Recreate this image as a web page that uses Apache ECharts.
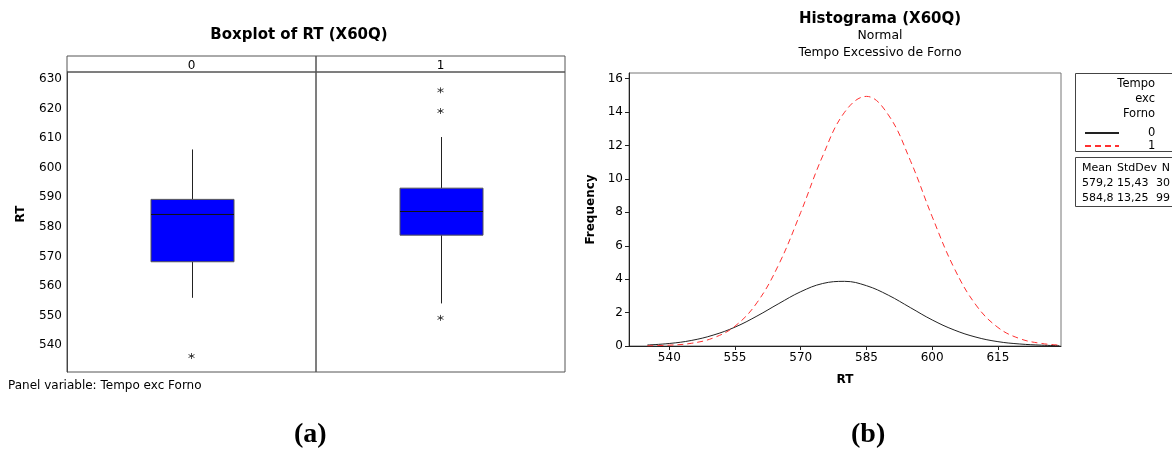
<!DOCTYPE html>
<html>
<head>
<meta charset="utf-8">
<script src="https://cdn.jsdelivr.net/npm/echarts@6/dist/echarts.min.js"></script>
<style>
    html, body { margin: 0; padding: 0; background: #fff; }
    #chart { width: 1172px; height: 454px; }
</style>
</head>
<body>
<div id="chart"></div>
<script>
// boxplot (a): [lower whisker, Q1, median, Q3, upper whisker]
const boxGroups = ['0', '1'];
const boxStats0 = [556.0, 568.2, 584.2, 589.3, 606.2];
const boxStats1 = [554.1, 577.2, 585.2, 593.1, 610.4];
const outliers0 = [536.3];
const outliers1 = [626.2, 619.2, 549.2];
const rtTicks = [540, 550, 560, 570, 580, 590, 600, 610, 620, 630];

// fitted normal curves (b)
const rtValues = [535, 540, 545, 550, 555, 560, 565, 570, 575, 580, 585, 590, 595, 600, 605, 610, 615, 620, 625, 629];
const freq0 = [0.06, 0.15, 0.33, 0.65, 1.13, 1.79, 2.54, 3.25, 3.74, 3.87, 3.61, 3.04, 2.30, 1.56, 0.96, 0.53, 0.26, 0.12, 0.05, 0.02];
const freq1 = [0.01, 0.05, 0.16, 0.48, 1.19, 2.59, 4.89, 8.00, 11.37, 13.99, 14.94, 13.83, 11.11, 7.74, 4.67, 2.45, 1.11, 0.44, 0.15, 0.06];
const rtAxisTicks = [540, 555, 570, 585, 600, 615];
const freqTicks = [0, 2, 4, 6, 8, 10, 12, 14, 16];
const statMean = ['579,2', '584,8'];
const statStDev = ['15,43', '13,25'];
const statN = ['30', '99'];

const font = 'DejaVu Sans';
const asterisk = 'path://M5,0L5,10M0.7,2.5L9.3,7.5M0.7,7.5L9.3,2.5';

const renderBox = (params, api) => {
    const x = api.value(0);
    const lo = api.coord([x, api.value(1)]);
    const q1 = api.coord([x, api.value(2)]);
    const med = api.coord([x, api.value(3)]);
    const q3 = api.coord([x, api.value(4)]);
    const hi = api.coord([x, api.value(5)]);
    const half = api.size([1, 0])[0] / 6;
    const cx = Math.round(lo[0]) + 0.5;
    return {
        type: 'group',
        children: [
            { type: 'line', shape: { x1: cx, y1: lo[1], x2: cx, y2: q1[1] }, style: { stroke: '#222', lineWidth: 1 } },
            { type: 'line', shape: { x1: cx, y1: q3[1], x2: cx, y2: hi[1] }, style: { stroke: '#222', lineWidth: 1 } },
            {
                type: 'rect',
                shape: { x: cx - half, y: q3[1], width: half * 2, height: q1[1] - q3[1] },
                style: { fill: '#0000ff', stroke: '#555', lineWidth: 1 }
            },
            { type: 'line', shape: { x1: cx - half, y1: med[1], x2: cx + half, y2: med[1] }, style: { stroke: '#111', lineWidth: 1 } }
        ]
    };
};

const panelGrid = left => ({ left: left, width: 249, top: 72, height: 300, show: true, borderColor: '#555', borderWidth: 1, backgroundColor: 'transparent' });
const headGrid = left => ({ left: left, width: 249, top: 56, height: 16, show: true, borderColor: '#555', borderWidth: 1, backgroundColor: 'transparent' });

const hiddenX = (gridIndex, cat) => ({
    type: 'category', gridIndex: gridIndex, data: [cat],
    axisLine: { show: false }, axisTick: { show: false }, axisLabel: { show: false }, splitLine: { show: false }
});
const headX = (gridIndex, cat) => ({
    type: 'category', gridIndex: gridIndex, data: [cat],
    axisLine: { show: false }, axisTick: { show: false },
    axisLabel: { inside: true, margin: 0, color: '#000', fontFamily: font, fontSize: 12 },
    splitLine: { show: false }
});
const hiddenY = gridIndex => ({
    type: 'value', gridIndex: gridIndex, min: 530.9, max: 632.4,
    axisLine: { show: false }, axisTick: { show: false }, axisLabel: { show: false }, splitLine: { show: false }
});

const statText = (x, lines, align) => ({
    type: 'text', x: x, y: 161,
    style: { text: lines.join('\n'), align: align, lineHeight: 15, fontFamily: font, fontSize: 11, fill: '#000' }
});

const chart = echarts.init(document.getElementById('chart'));
chart.setOption({
    animation: false,
    backgroundColor: '#fff',
    title: [
        {
            text: 'Boxplot of RT (X60Q)', left: 294, top: 23, textAlign: 'center',
            textStyle: { fontFamily: font, fontSize: 15, fontWeight: 'bold', color: '#000' }
        },
        {
            text: 'Histograma (X60Q)', left: 875, top: 7, textAlign: 'center', itemGap: 0,
            subtext: 'Normal\nTempo Excessivo de Forno',
            textStyle: { fontFamily: font, fontSize: 15, fontWeight: 'bold', color: '#000' },
            subtextStyle: { fontFamily: font, fontSize: 12.4, color: '#000', lineHeight: 17 }
        }
    ],
    legend: {
        data: ['0', '1'], orient: 'vertical', left: 1079, top: 122,
        itemWidth: 34, itemHeight: 14, itemGap: 1, selectedMode: false,
        itemStyle: { opacity: 0 },
        textStyle: { fontFamily: font, fontSize: 11.5, color: '#000', padding: [0, 0, 0, 24] }
    },
    grid: [
        panelGrid(67), panelGrid(316), headGrid(67), headGrid(316),
        { left: 629, top: 73, width: 432, height: 273, show: true, borderColor: '#777', borderWidth: 1 }
    ],
    xAxis: [
        hiddenX(0, boxGroups[0]), hiddenX(1, boxGroups[1]),
        headX(2, boxGroups[0]), headX(3, boxGroups[1]),
        {
            type: 'value', gridIndex: 4, min: 530.8, max: 629.4,
            name: 'RT', nameLocation: 'middle', nameGap: 28,
            nameTextStyle: { fontFamily: font, fontSize: 12, fontWeight: 'bold', color: '#000' },
            axisLine: { lineStyle: { color: '#222' } },
            axisTick: { customValues: rtAxisTicks, length: 4, lineStyle: { color: '#222' } },
            axisLabel: { customValues: rtAxisTicks, margin: 6, color: '#000', fontFamily: font, fontSize: 12 },
            splitLine: { show: false }
        }
    ],
    yAxis: [
        {
            type: 'value', gridIndex: 0, min: 530.9, max: 632.4,
            name: 'RT', nameLocation: 'middle', nameGap: 40,
            nameTextStyle: { fontFamily: font, fontSize: 12, fontWeight: 'bold', color: '#000', padding: [0, 0, 0, 16] },
            axisLine: { show: true, lineStyle: { color: '#444' } },
            axisTick: { customValues: rtTicks, length: 4, lineStyle: { color: '#444' } },
            axisLabel: { customValues: rtTicks, margin: 5, color: '#000', fontFamily: font, fontSize: 12 },
            splitLine: { show: false }
        },
        hiddenY(1), hiddenY(2), hiddenY(3),
        {
            type: 'value', gridIndex: 4, min: 0, max: 16.34,
            name: 'Frequency', nameLocation: 'middle', nameGap: 32,
            nameTextStyle: { fontFamily: font, fontSize: 12, fontWeight: 'bold', color: '#000' },
            axisLine: { show: true, lineStyle: { color: '#222' } },
            axisTick: { customValues: freqTicks, length: 4, lineStyle: { color: '#222' } },
            axisLabel: { customValues: freqTicks, margin: 6, color: '#000', fontFamily: font, fontSize: 12 },
            splitLine: { show: false }
        }
    ],
    series: [
        {
            type: 'custom', xAxisIndex: 0, yAxisIndex: 0, renderItem: renderBox,
            encode: { x: 0, y: [1, 2, 3, 4, 5] },
            data: [[0].concat(boxStats0)]
        },
        {
            type: 'custom', xAxisIndex: 1, yAxisIndex: 1, renderItem: renderBox,
            encode: { x: 0, y: [1, 2, 3, 4, 5] },
            data: [[0].concat(boxStats1)]
        },
        {
            type: 'scatter', xAxisIndex: 0, yAxisIndex: 0, symbol: asterisk, symbolSize: 6,
            itemStyle: { color: 'transparent', borderColor: '#222', borderWidth: 1 },
            data: outliers0.map(v => [0, v])
        },
        {
            type: 'scatter', xAxisIndex: 1, yAxisIndex: 1, symbol: asterisk, symbolSize: 6,
            itemStyle: { color: 'transparent', borderColor: '#222', borderWidth: 1 },
            data: outliers1.map(v => [0, v])
        },
        {
            name: '0', type: 'line', xAxisIndex: 4, yAxisIndex: 4, smooth: 0.4, symbol: 'none',
            itemStyle: { color: '#222' },
            lineStyle: { color: '#222', width: 1 },
            data: rtValues.map((x, i) => [x, freq0[i]])
        },
        {
            name: '1', type: 'line', xAxisIndex: 4, yAxisIndex: 4, smooth: 0.4, symbol: 'none',
            itemStyle: { color: '#ff3030' },
            lineStyle: { color: '#ff3030', width: 1, type: [6, 4] },
            data: rtValues.map((x, i) => [x, freq1[i]])
        }
    ],
    graphic: [
        {
            type: 'text', left: 8, top: 380,
            style: { text: 'Panel variable: Tempo exc Forno', fontFamily: font, fontSize: 12, fill: '#000' }
        },
        {
            type: 'text', left: 294, top: 421,
            style: { text: '(a)', fontFamily: 'Liberation Serif', fontSize: 28, fontWeight: 'bold', fill: '#000' }
        },
        {
            type: 'text', left: 851, top: 421,
            style: { text: '(b)', fontFamily: 'Liberation Serif', fontSize: 28, fontWeight: 'bold', fill: '#000' }
        },
        {
            type: 'rect', shape: { x: 1075.5, y: 73.5, width: 120, height: 78 },
            style: { fill: 'none', stroke: '#444', lineWidth: 1 }
        },
        {
            type: 'rect', shape: { x: 1075.5, y: 157.5, width: 120, height: 49 },
            style: { fill: 'none', stroke: '#444', lineWidth: 1 }
        },
        {
            type: 'text', x: 1155, y: 77,
            style: { text: 'Tempo\nexc\nForno', align: 'right', lineHeight: 15, fontFamily: font, fontSize: 11.5, fill: '#000' }
        },
        statText(1082, ['Mean'].concat(statMean), 'left'),
        statText(1117, ['StdDev'].concat(statStDev), 'left'),
        statText(1170, ['N'].concat(statN), 'right')
    ]
});
</script>
</body>
</html>
